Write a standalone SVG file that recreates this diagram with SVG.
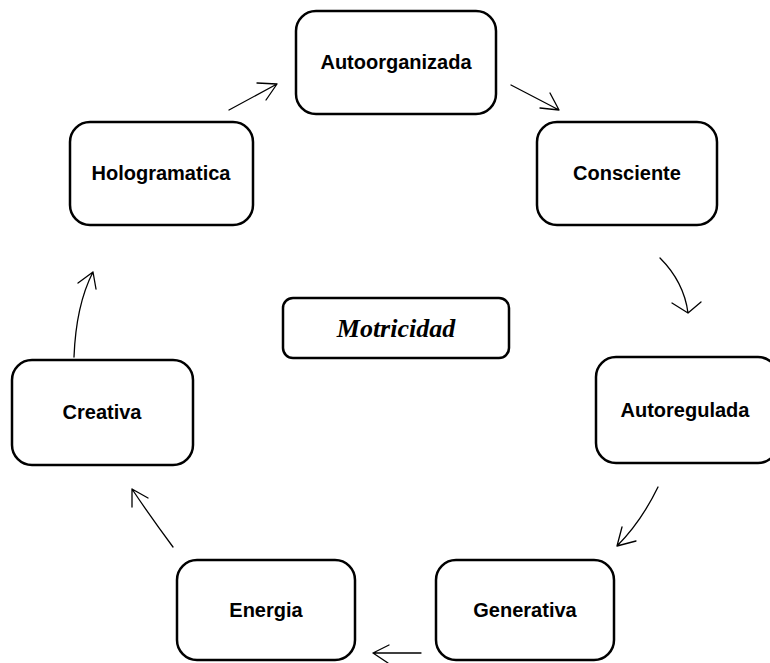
<svg xmlns="http://www.w3.org/2000/svg" width="770" height="663" viewBox="0 0 770 663">
<style>
.box{fill:#fff;stroke:#000;stroke-width:2.5}
.lbl{font-family:"Liberation Sans",Arial,sans-serif;font-weight:bold;font-size:20px;text-anchor:middle;fill:#000}
.mot{font-family:"Liberation Serif","Times New Roman",serif;font-weight:bold;font-style:italic;font-size:26px;text-anchor:middle;fill:#000}
.arr{fill:none;stroke:#000;stroke-width:1.3;stroke-linecap:round;stroke-linejoin:round}
</style>
<rect width="770" height="663" fill="#fff"/>
<g id="connectors">
<path class="arr" d="M229,110 L277,84 M257,83 L277,84 L266,100"/>
<path class="arr" d="M511,85 L559,110 M550,93 L559,110 L540,108"/>
<path class="arr" d="M660,258 Q684,282 688,313 M672,303 L688,313 L701,302"/>
<path class="arr" d="M658,487 Q641,522 617,546 M622,527 L617,546 L636,541"/>
<path class="arr" d="M421,653 L373,653 M389,645 L373,653 L388,663"/>
<path class="arr" d="M173,547 Q150,516 132,489 M132,507 L132,489 L148,498"/>
<path class="arr" d="M74,357 Q76,305 93,272 M78,283 L93,272 L96,289"/>
</g>
<g id="autoorganizada"><rect class="box" x="296" y="11" width="200" height="103" rx="20"/><text class="lbl" x="396" y="69">Autoorganizada</text></g>
<g id="consciente"><rect class="box" x="537" y="122" width="180" height="103" rx="20"/><text class="lbl" x="627" y="180">Consciente</text></g>
<g id="autoregulada"><rect class="box" x="596" y="357" width="182" height="106" rx="20"/><text class="lbl" x="685" y="417">Autoregulada</text></g>
<g id="generativa"><rect class="box" x="436" y="560" width="178" height="100" rx="20"/><text class="lbl" x="525" y="617">Generativa</text></g>
<g id="energia"><rect class="box" x="177" y="560" width="178" height="100" rx="20"/><text class="lbl" x="266" y="617">Energia</text></g>
<g id="creativa"><rect class="box" x="12" y="360" width="181" height="105" rx="20"/><text class="lbl" x="102" y="419">Creativa</text></g>
<g id="hologramatica"><rect class="box" x="70" y="122" width="183" height="103" rx="20"/><text class="lbl" x="161" y="180">Hologramatica</text></g>
<g id="motricidad"><rect class="box" x="283" y="298" width="226" height="60" rx="10"/><text class="mot" x="396" y="337">Motricidad</text></g>
</svg>
